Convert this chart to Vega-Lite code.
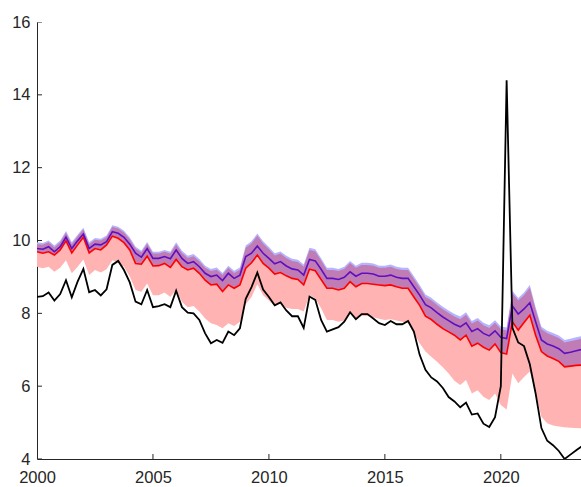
{
  "$schema": "https://vega.github.io/schema/vega-lite/v6.json",
  "width": 545,
  "height": 437,
  "autosize": {"type": "none"},
  "padding": {"left": 37, "top": 22, "right": 0, "bottom": 28},
  "background": "white",
  "config": {
    "view": {"stroke": null},
    "axis": {
      "grid": false,
      "domainColor": "#262626",
      "domainWidth": 1,
      "ticks": false,
      "labelFont": "Liberation Sans",
      "labelFontSize": 16.5,
      "labelColor": "#262626",
      "labelFlush": false,
      "labelOverlap": false,
      "titleFontSize": 0
    }
  },
  "datasets": {
    "main": [
      {"t": 2000.00, "b": 8.45, "r": 9.69, "p": 9.78, "lo": 9.28, "hi": 9.90, "hb": 9.95},
      {"t": 2000.25, "b": 8.47, "r": 9.65, "p": 9.76, "lo": 9.24, "hi": 9.88, "hb": 9.93},
      {"t": 2000.50, "b": 8.57, "r": 9.69, "p": 9.83, "lo": 9.28, "hi": 9.95, "hb": 10.00},
      {"t": 2000.75, "b": 8.35, "r": 9.60, "p": 9.69, "lo": 9.14, "hi": 9.81, "hb": 9.86},
      {"t": 2001.00, "b": 8.53, "r": 9.74, "p": 9.83, "lo": 9.25, "hi": 9.95, "hb": 10.00},
      {"t": 2001.25, "b": 8.91, "r": 9.99, "p": 10.09, "lo": 9.46, "hi": 10.21, "hb": 10.26},
      {"t": 2001.50, "b": 8.44, "r": 9.66, "p": 9.78, "lo": 9.10, "hi": 9.90, "hb": 9.95},
      {"t": 2001.75, "b": 8.87, "r": 9.88, "p": 9.99, "lo": 9.28, "hi": 10.11, "hb": 10.16},
      {"t": 2002.00, "b": 9.22, "r": 10.09, "p": 10.18, "lo": 9.48, "hi": 10.30, "hb": 10.35},
      {"t": 2002.25, "b": 8.58, "r": 9.66, "p": 9.78, "lo": 9.05, "hi": 9.90, "hb": 9.95},
      {"t": 2002.50, "b": 8.64, "r": 9.78, "p": 9.90, "lo": 9.19, "hi": 10.02, "hb": 10.07},
      {"t": 2002.75, "b": 8.49, "r": 9.74, "p": 9.88, "lo": 9.12, "hi": 10.00, "hb": 10.05},
      {"t": 2003.00, "b": 8.66, "r": 9.88, "p": 9.97, "lo": 9.21, "hi": 10.09, "hb": 10.14},
      {"t": 2003.25, "b": 9.33, "r": 10.12, "p": 10.24, "lo": 9.46, "hi": 10.37, "hb": 10.42},
      {"t": 2003.50, "b": 9.44, "r": 10.06, "p": 10.20, "lo": 9.39, "hi": 10.33, "hb": 10.38},
      {"t": 2003.75, "b": 9.19, "r": 9.94, "p": 10.09, "lo": 9.28, "hi": 10.22, "hb": 10.27},
      {"t": 2004.00, "b": 8.85, "r": 9.74, "p": 9.90, "lo": 9.01, "hi": 10.03, "hb": 10.08},
      {"t": 2004.25, "b": 8.32, "r": 9.37, "p": 9.65, "lo": 8.64, "hi": 9.78, "hb": 9.83},
      {"t": 2004.50, "b": 8.25, "r": 9.35, "p": 9.54, "lo": 8.59, "hi": 9.67, "hb": 9.72},
      {"t": 2004.75, "b": 8.64, "r": 9.57, "p": 9.78, "lo": 8.82, "hi": 9.91, "hb": 9.96},
      {"t": 2005.00, "b": 8.17, "r": 9.30, "p": 9.51, "lo": 8.50, "hi": 9.64, "hb": 9.69},
      {"t": 2005.25, "b": 8.20, "r": 9.31, "p": 9.51, "lo": 8.50, "hi": 9.64, "hb": 9.69},
      {"t": 2005.50, "b": 8.25, "r": 9.37, "p": 9.56, "lo": 8.57, "hi": 9.69, "hb": 9.74},
      {"t": 2005.75, "b": 8.17, "r": 9.26, "p": 9.50, "lo": 8.45, "hi": 9.64, "hb": 9.69},
      {"t": 2006.00, "b": 8.62, "r": 9.48, "p": 9.74, "lo": 8.64, "hi": 9.89, "hb": 9.95},
      {"t": 2006.25, "b": 8.17, "r": 9.28, "p": 9.51, "lo": 8.32, "hi": 9.66, "hb": 9.72},
      {"t": 2006.50, "b": 8.02, "r": 9.19, "p": 9.37, "lo": 8.17, "hi": 9.52, "hb": 9.58},
      {"t": 2006.75, "b": 8.00, "r": 9.24, "p": 9.42, "lo": 8.20, "hi": 9.57, "hb": 9.63},
      {"t": 2007.00, "b": 7.82, "r": 9.10, "p": 9.28, "lo": 8.05, "hi": 9.43, "hb": 9.49},
      {"t": 2007.25, "b": 7.45, "r": 8.91, "p": 9.10, "lo": 7.86, "hi": 9.25, "hb": 9.31},
      {"t": 2007.50, "b": 7.18, "r": 8.78, "p": 9.01, "lo": 7.73, "hi": 9.16, "hb": 9.22},
      {"t": 2007.75, "b": 7.27, "r": 8.80, "p": 9.05, "lo": 7.68, "hi": 9.20, "hb": 9.26},
      {"t": 2008.00, "b": 7.19, "r": 8.60, "p": 8.90, "lo": 7.59, "hi": 9.05, "hb": 9.11},
      {"t": 2008.25, "b": 7.50, "r": 8.78, "p": 9.10, "lo": 7.73, "hi": 9.25, "hb": 9.31},
      {"t": 2008.50, "b": 7.40, "r": 8.69, "p": 8.96, "lo": 7.65, "hi": 9.11, "hb": 9.17},
      {"t": 2008.75, "b": 7.59, "r": 8.78, "p": 9.05, "lo": 7.77, "hi": 9.20, "hb": 9.26},
      {"t": 2009.00, "b": 8.40, "r": 9.24, "p": 9.56, "lo": 8.25, "hi": 9.80, "hb": 9.86},
      {"t": 2009.25, "b": 8.72, "r": 9.39, "p": 9.65, "lo": 8.45, "hi": 9.92, "hb": 9.98},
      {"t": 2009.50, "b": 9.12, "r": 9.60, "p": 9.85, "lo": 8.80, "hi": 10.13, "hb": 10.19},
      {"t": 2009.75, "b": 8.65, "r": 9.37, "p": 9.65, "lo": 8.50, "hi": 9.92, "hb": 9.98},
      {"t": 2010.00, "b": 8.45, "r": 9.24, "p": 9.51, "lo": 8.35, "hi": 9.76, "hb": 9.82},
      {"t": 2010.25, "b": 8.22, "r": 9.08, "p": 9.36, "lo": 8.20, "hi": 9.59, "hb": 9.65},
      {"t": 2010.50, "b": 8.30, "r": 9.12, "p": 9.42, "lo": 8.28, "hi": 9.64, "hb": 9.70},
      {"t": 2010.75, "b": 8.08, "r": 9.03, "p": 9.30, "lo": 8.15, "hi": 9.52, "hb": 9.58},
      {"t": 2011.00, "b": 7.92, "r": 8.96, "p": 9.22, "lo": 8.12, "hi": 9.44, "hb": 9.50},
      {"t": 2011.25, "b": 7.92, "r": 8.93, "p": 9.19, "lo": 8.12, "hi": 9.41, "hb": 9.47},
      {"t": 2011.50, "b": 7.60, "r": 8.78, "p": 9.05, "lo": 8.05, "hi": 9.28, "hb": 9.34},
      {"t": 2011.75, "b": 8.46, "r": 9.21, "p": 9.48, "lo": 8.50, "hi": 9.74, "hb": 9.80},
      {"t": 2012.00, "b": 8.37, "r": 9.17, "p": 9.44, "lo": 8.41, "hi": 9.70, "hb": 9.76},
      {"t": 2012.25, "b": 7.82, "r": 8.93, "p": 9.21, "lo": 8.14, "hi": 9.45, "hb": 9.51},
      {"t": 2012.50, "b": 7.50, "r": 8.69, "p": 8.96, "lo": 7.82, "hi": 9.19, "hb": 9.25},
      {"t": 2012.75, "b": 7.56, "r": 8.69, "p": 8.96, "lo": 7.82, "hi": 9.19, "hb": 9.25},
      {"t": 2013.00, "b": 7.62, "r": 8.64, "p": 8.93, "lo": 7.77, "hi": 9.16, "hb": 9.22},
      {"t": 2013.25, "b": 7.77, "r": 8.69, "p": 8.99, "lo": 7.80, "hi": 9.22, "hb": 9.28},
      {"t": 2013.50, "b": 8.03, "r": 8.87, "p": 9.14, "lo": 8.00, "hi": 9.38, "hb": 9.44},
      {"t": 2013.75, "b": 7.84, "r": 8.73, "p": 9.02, "lo": 7.86, "hi": 9.25, "hb": 9.31},
      {"t": 2014.00, "b": 7.98, "r": 8.82, "p": 9.10, "lo": 7.93, "hi": 9.33, "hb": 9.39},
      {"t": 2014.25, "b": 7.98, "r": 8.82, "p": 9.10, "lo": 7.93, "hi": 9.33, "hb": 9.39},
      {"t": 2014.50, "b": 7.86, "r": 8.80, "p": 9.08, "lo": 7.89, "hi": 9.31, "hb": 9.37},
      {"t": 2014.75, "b": 7.73, "r": 8.78, "p": 9.02, "lo": 7.85, "hi": 9.25, "hb": 9.31},
      {"t": 2015.00, "b": 7.68, "r": 8.76, "p": 9.02, "lo": 7.82, "hi": 9.25, "hb": 9.31},
      {"t": 2015.25, "b": 7.79, "r": 8.78, "p": 9.05, "lo": 7.84, "hi": 9.28, "hb": 9.34},
      {"t": 2015.50, "b": 7.70, "r": 8.73, "p": 8.99, "lo": 7.80, "hi": 9.22, "hb": 9.28},
      {"t": 2015.75, "b": 7.70, "r": 8.69, "p": 8.96, "lo": 7.77, "hi": 9.19, "hb": 9.25},
      {"t": 2016.00, "b": 7.79, "r": 8.69, "p": 8.96, "lo": 7.73, "hi": 9.19, "hb": 9.25},
      {"t": 2016.25, "b": 7.50, "r": 8.45, "p": 8.73, "lo": 7.45, "hi": 8.95, "hb": 9.02},
      {"t": 2016.50, "b": 6.86, "r": 8.22, "p": 8.50, "lo": 7.18, "hi": 8.71, "hb": 8.78},
      {"t": 2016.75, "b": 6.45, "r": 7.92, "p": 8.24, "lo": 6.95, "hi": 8.45, "hb": 8.52},
      {"t": 2017.00, "b": 6.24, "r": 7.83, "p": 8.15, "lo": 6.81, "hi": 8.36, "hb": 8.43},
      {"t": 2017.25, "b": 6.13, "r": 7.70, "p": 8.02, "lo": 6.67, "hi": 8.23, "hb": 8.30},
      {"t": 2017.50, "b": 5.95, "r": 7.58, "p": 7.90, "lo": 6.52, "hi": 8.11, "hb": 8.18},
      {"t": 2017.75, "b": 5.70, "r": 7.49, "p": 7.80, "lo": 6.35, "hi": 8.01, "hb": 8.08},
      {"t": 2018.00, "b": 5.58, "r": 7.40, "p": 7.70, "lo": 6.15, "hi": 7.91, "hb": 7.98},
      {"t": 2018.25, "b": 5.42, "r": 7.27, "p": 7.63, "lo": 6.03, "hi": 7.84, "hb": 7.91},
      {"t": 2018.50, "b": 5.55, "r": 7.40, "p": 7.74, "lo": 6.17, "hi": 7.96, "hb": 8.03},
      {"t": 2018.75, "b": 5.22, "r": 7.10, "p": 7.50, "lo": 5.80, "hi": 7.72, "hb": 7.79},
      {"t": 2019.00, "b": 5.25, "r": 7.18, "p": 7.58, "lo": 5.89, "hi": 7.80, "hb": 7.87},
      {"t": 2019.25, "b": 4.97, "r": 7.07, "p": 7.45, "lo": 5.71, "hi": 7.67, "hb": 7.74},
      {"t": 2019.50, "b": 4.88, "r": 6.99, "p": 7.38, "lo": 5.62, "hi": 7.60, "hb": 7.67},
      {"t": 2019.75, "b": 5.15, "r": 7.16, "p": 7.52, "lo": 5.80, "hi": 7.74, "hb": 7.81},
      {"t": 2020.00, "b": 6.00, "r": 6.92, "p": 7.34, "lo": 5.48, "hi": 7.56, "hb": 7.64},
      {"t": 2020.25, "b": 14.40, "r": 6.88, "p": 7.31, "lo": 5.36, "hi": 7.53, "hb": 7.61},
      {"t": 2020.50, "b": 7.60, "r": 7.77, "p": 8.20, "lo": 6.35, "hi": 8.55, "hb": 8.62},
      {"t": 2020.75, "b": 7.20, "r": 7.54, "p": 7.98, "lo": 6.08, "hi": 8.35, "hb": 8.42},
      {"t": 2021.00, "b": 7.10, "r": 7.75, "p": 8.12, "lo": 6.25, "hi": 8.50, "hb": 8.57},
      {"t": 2021.25, "b": 6.60, "r": 7.95, "p": 8.29, "lo": 6.40, "hi": 8.70, "hb": 8.78},
      {"t": 2021.50, "b": 5.80, "r": 7.40, "p": 7.77, "lo": 5.80, "hi": 8.10, "hb": 8.17},
      {"t": 2021.75, "b": 4.85, "r": 6.95, "p": 7.27, "lo": 5.16, "hi": 7.56, "hb": 7.63},
      {"t": 2022.00, "b": 4.50, "r": 6.83, "p": 7.16, "lo": 4.98, "hi": 7.45, "hb": 7.52},
      {"t": 2022.25, "b": 4.38, "r": 6.76, "p": 7.10, "lo": 4.92, "hi": 7.39, "hb": 7.46},
      {"t": 2022.50, "b": 4.22, "r": 6.68, "p": 7.03, "lo": 4.89, "hi": 7.32, "hb": 7.39},
      {"t": 2022.75, "b": 4.00, "r": 6.53, "p": 6.90, "lo": 4.87, "hi": 7.20, "hb": 7.27},
      {"t": 2023.00, "b": 4.12, "r": 6.55, "p": 6.93, "lo": 4.86, "hi": 7.23, "hb": 7.30},
      {"t": 2023.25, "b": 4.24, "r": 6.57, "p": 6.97, "lo": 4.85, "hi": 7.27, "hb": 7.34},
      {"t": 2023.50, "b": 4.35, "r": 6.58, "p": 7.01, "lo": 4.84, "hi": 7.31, "hb": 7.38}
    ],
    "xticks": [{"v": 2000}, {"v": 2005}, {"v": 2010}, {"v": 2015}, {"v": 2020}],
    "yticks": [{"v": 4}, {"v": 6}, {"v": 8}, {"v": 10}, {"v": 12}, {"v": 14}, {"v": 16}]
  },
  "data": {"name": "main"},
  "layer": [
    {
      "mark": {"type": "area", "color": "#b4b4ff", "clip": true},
      "encoding": {
        "x": {
          "field": "t", "type": "quantitative", "title": null,
          "scale": {"domain": [2000, 2023.5], "nice": false, "zero": false},
          "axis": {"values": [2000, 2005, 2010, 2015, 2020], "format": "d", "labelPadding": 10}
        },
        "y": {"field": "r", "type": "quantitative", "title": null,
              "scale": {"domain": [4, 16], "nice": false, "zero": false},
              "axis": {"values": [4, 6, 8, 10, 12, 14, 16], "labelPadding": 7}},
        "y2": {"field": "hb"}
      }
    },
    {
      "mark": {"type": "area", "color": "#c07cb4", "clip": true},
      "encoding": {
        "x": {"field": "t", "type": "quantitative", "title": null},
        "y": {"field": "r", "type": "quantitative", "title": null},
        "y2": {"field": "hi"}
      }
    },
    {
      "mark": {"type": "area", "color": "#ffb3b3", "clip": true},
      "encoding": {
        "x": {"field": "t", "type": "quantitative", "title": null},
        "y": {"field": "lo", "type": "quantitative", "title": null},
        "y2": {"field": "r"}
      }
    },
    {
      "mark": {"type": "line", "color": "#ff0000", "strokeWidth": 1.6, "clip": true},
      "encoding": {
        "x": {"field": "t", "type": "quantitative", "title": null},
        "y": {"field": "r", "type": "quantitative", "title": null}
      }
    },
    {
      "mark": {"type": "line", "color": "#5e10c0", "strokeWidth": 1.6, "clip": true},
      "encoding": {
        "x": {"field": "t", "type": "quantitative", "title": null},
        "y": {"field": "p", "type": "quantitative", "title": null}
      }
    },
    {
      "mark": {"type": "line", "color": "#000000", "strokeWidth": 1.8, "clip": true},
      "encoding": {
        "x": {"field": "t", "type": "quantitative", "title": null},
        "y": {"field": "b", "type": "quantitative", "title": null}
      }
    },
    {
      "data": {"name": "xticks"},
      "mark": {"type": "tick", "orient": "vertical", "size": 10, "thickness": 1, "color": "#262626", "opacity": 1, "clip": true},
      "encoding": {
        "x": {"field": "v", "type": "quantitative", "title": null},
        "y": {"datum": 4, "type": "quantitative"}
      }
    },
    {
      "data": {"name": "yticks"},
      "mark": {"type": "tick", "orient": "horizontal", "size": 10, "thickness": 1, "color": "#262626", "opacity": 1, "clip": true},
      "encoding": {
        "x": {"datum": 2000, "type": "quantitative"},
        "y": {"field": "v", "type": "quantitative", "title": null}
      }
    }
  ]
}
